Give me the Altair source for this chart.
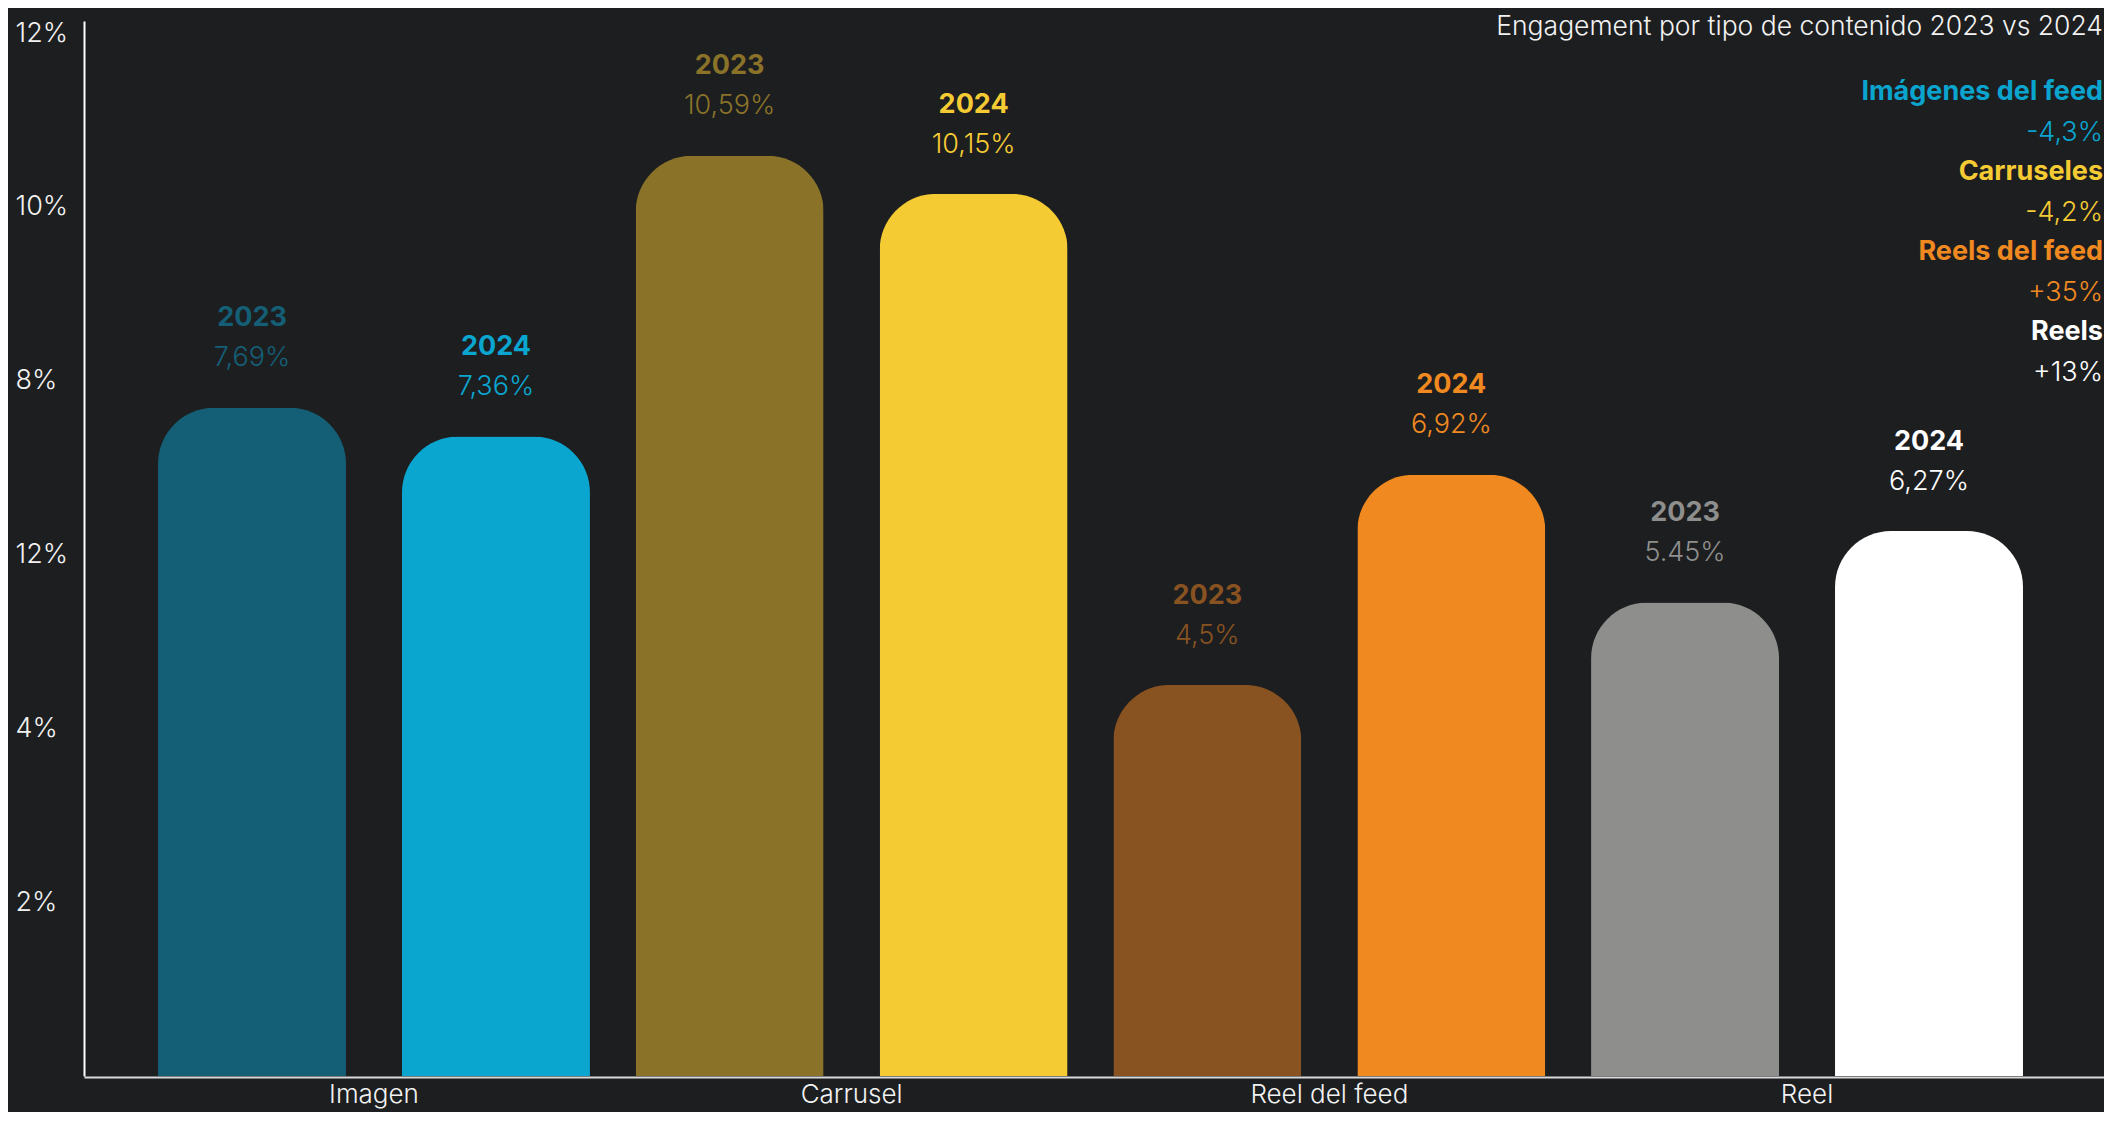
import json
import altair as alt
import pandas as pd

# ---------------- data ----------------
categories = ["Imagen", "Carrusel", "Reel del feed", "Reel"]
years = ["2023", "2024"]
values_2023 = [7.69, 10.59, 4.5, 5.45]
values_2024 = [7.36, 10.15, 6.92, 6.27]
labels_2023 = ["7,69%", "10,59%", "4,5%", "5.45%"]
labels_2024 = ["7,36%", "10,15%", "6,92%", "6,27%"]
colors_2023 = ["#145f76", "#8a7329", "#895221", "#8e8f8d"]
colors_2024 = ["#0aa6d0", "#f5cb33", "#f08a20", "#ffffff"]

y_tick_values = [2, 4, 6, 8, 10, 12]
y_tick_labels = ["2%", "4%", "12%", "8%", "10%", "12%"]

title_text = "Engagement por tipo de contenido 2023 vs 2024"
summary_names = ["Imágenes del feed", "Carruseles", "Reels del feed", "Reels"]
summary_changes = ["-4,3%", "-4,2%", "+35%", "+13%"]
summary_colors = ["#0aa5cf", "#f5cb33", "#f08a20", "#ffffff"]

# ---------------- tables ----------------
rows = []
keys = []
key_colors = []
for i, cat in enumerate(categories):
    for yr, vals, labs, cols in (
        ("2023", values_2023, labels_2023, colors_2023),
        ("2024", values_2024, labels_2024, colors_2024),
    ):
        k = f"{cat} {yr}"
        rows.append({"categoria": cat, "anio": yr, "valor": vals[i],
                     "etiqueta": labs[i], "clave": k})
        keys.append(k)
        key_colors.append(cols[i])
df = pd.DataFrame(rows)

summary_df = pd.DataFrame({
    "nombre": summary_names,
    "cambio": summary_changes,
    "color": summary_colors,
    "orden": list(range(len(summary_names))),
})
title_df = pd.DataFrame({"t": [title_text]})

BG = "#1d1e20"
FONT = "Inter"

label_expr = f"{json.dumps(y_tick_labels)}[indexof({json.dumps(y_tick_values)}, datum.value)]"

x_enc = alt.X(
    "categoria:N", sort=categories,
    scale=alt.Scale(paddingInner=0, paddingOuter=0.1144, align=0.468),
    axis=alt.Axis(title="", labelAngle=0, labelFont=FONT, labelFontSize=26,
                  labelFontWeight=300, labelColor="#f2f2f2", ticks=False,
                  domainColor="#d9d9d9", domainWidth=2, labelBaseline="alphabetic",
                  labelPadding=25, offset=1, grid=False),
)
xoff_enc = alt.XOffset(
    "anio:N", sort=years,
    scale=alt.Scale(paddingInner=0.2295, paddingOuter=0.0937),
)
y_enc = alt.Y(
    "valor:Q",
    scale=alt.Scale(domain=[0, 12.14], nice=False, zero=True),
    axis=alt.Axis(title="", values=y_tick_values, labelExpr=label_expr,
                  labelAlign="left", labelPadding=69, labelBaseline="middle",
                  ticks=False, tickSize=0, grid=False, domainColor="#ffffff",
                  domainWidth=2, labelFont=FONT, labelFontSize=27,
                  labelFontWeight=300, labelColor="#f2f2f2"),
)
color_enc = alt.Color("clave:N", scale=alt.Scale(domain=keys, range=key_colors), legend=None)

base = alt.Chart(df)

bars = base.mark_bar(cornerRadiusTopLeft=56, cornerRadiusTopRight=56).encode(
    x=x_enc, xOffset=xoff_enc, y=y_enc, color=color_enc
)
year_text = base.mark_text(font=FONT, fontSize=27, fontWeight=700,
                           baseline="middle", align="center", dy=-89.3).encode(
    x=x_enc, xOffset=xoff_enc, y=y_enc, color=color_enc, text="anio:N"
)
value_text = base.mark_text(font=FONT, fontSize=27, fontWeight=300,
                            baseline="middle", align="center", dy=-49.3).encode(
    x=x_enc, xOffset=xoff_enc, y=y_enc, color=color_enc, text="etiqueta:N"
)
main = alt.layer(bars, year_text, value_text)

sum_y = alt.Y("orden:O", scale=alt.Scale(type="point", range=[70.8, 310.8], padding=0), axis=None)
sum_color = alt.Color("color:N", scale=None)
names = alt.Chart(summary_df).mark_text(
    font=FONT, fontSize=27, fontWeight=700, align="right", baseline="middle"
).encode(x=alt.value(2019), y=sum_y, text="nombre:N", color=sum_color)
changes = alt.Chart(summary_df).mark_text(
    font=FONT, fontSize=27, fontWeight=300, align="right", baseline="middle", dy=40.8
).encode(x=alt.value(2019), y=sum_y, text="cambio:N", color=sum_color)

title_layer = alt.Chart(title_df).mark_text(
    font=FONT, fontSize=26.5, fontWeight=300, align="right", baseline="middle",
    color="#f2f2f2"
).encode(x=alt.value(2019), y=alt.value(5.5), text="t:N")

chart = alt.layer(main, names, changes, title_layer).resolve_scale(
    y="independent", color="independent"
).properties(
    width=2020, height=1055,
    padding={"left": 76, "top": 13, "right": 0, "bottom": 36},
    autosize=alt.AutoSizeParams(type="none"),
    background=BG,
).configure_view(stroke="transparent")

chart.save("out.html", embed_options={"renderer": "svg", "actions": False})
